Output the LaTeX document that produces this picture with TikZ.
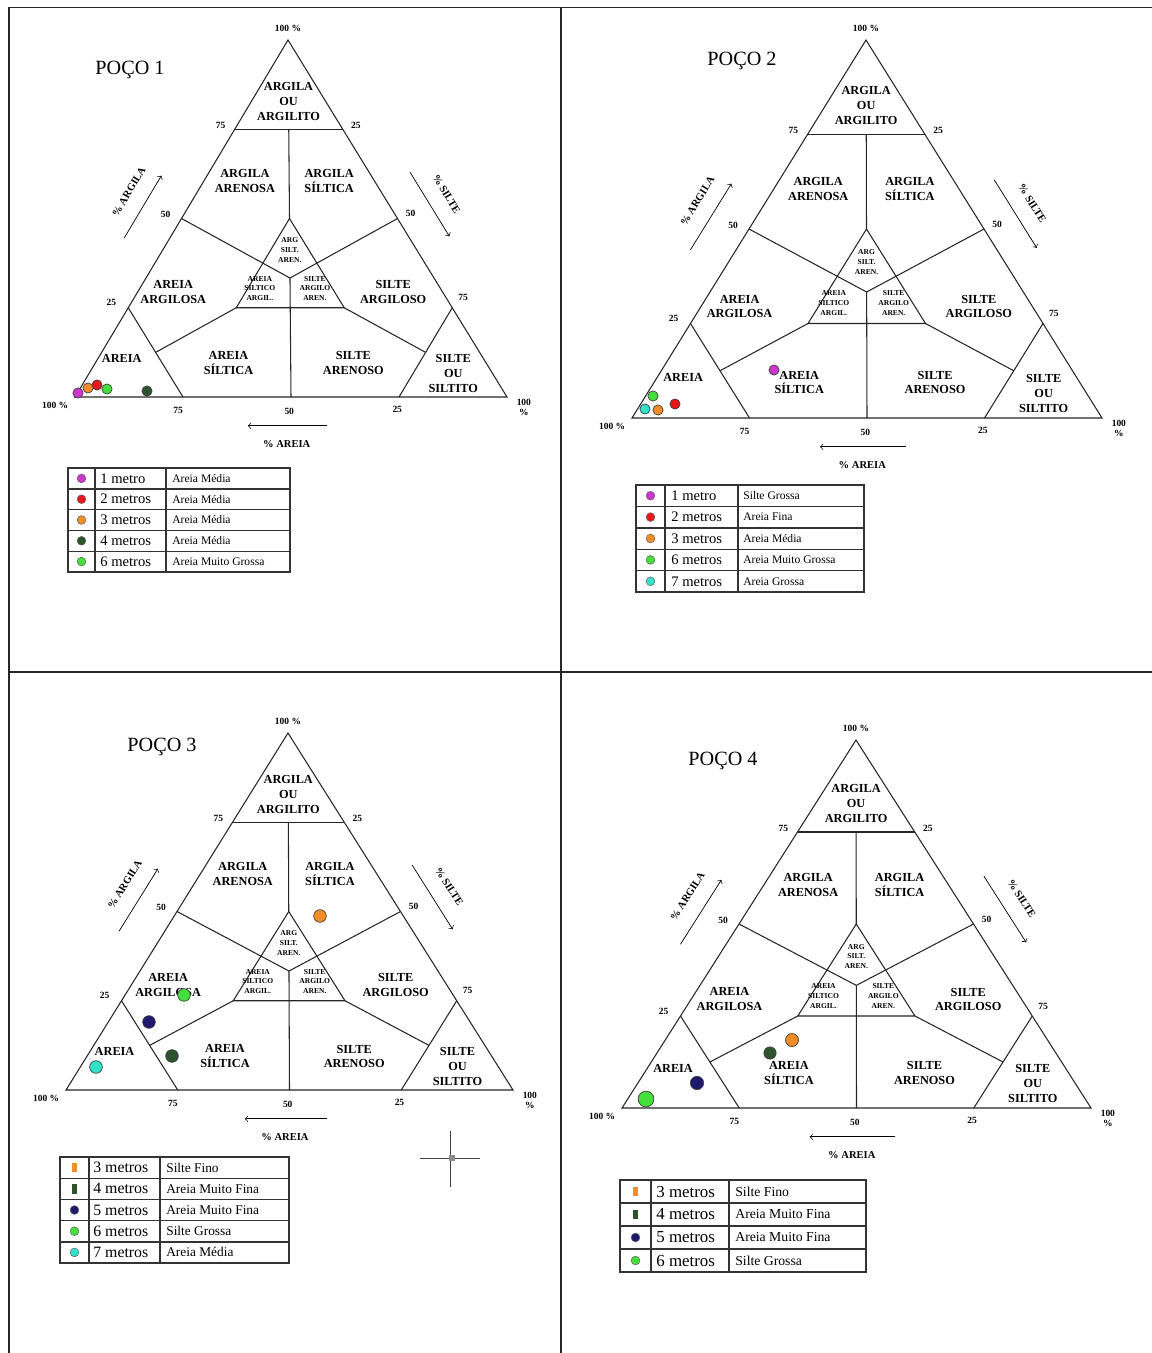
\documentclass[tikz,border=0pt]{standalone}
\usepackage{fontspec}
\setmainfont{Liberation Serif}
\usetikzlibrary{arrows}

\definecolor{dotmag}{RGB}{205,55,205}
\definecolor{dotred}{RGB}{230,25,25}
\definecolor{dotorange}{RGB}{242,140,40}
\definecolor{dotdark}{RGB}{45,85,45}
\definecolor{dotlime}{RGB}{70,222,60}
\definecolor{dotcyan}{RGB}{50,225,200}
\definecolor{dotnavy}{RGB}{30,25,110}

\tikzstyle{shepline} = [line width=0.6pt, draw=black!85]
\tikzstyle{zone} = [font=\fontsize{7}{8.5}\selectfont\bfseries, align=center, inner sep=0pt]
\tikzstyle{core} = [font=\fontsize{4.3}{5.6}\selectfont\bfseries, align=center, inner sep=0pt]
\tikzstyle{scalemark} = [font=\fontsize{5.4}{5.8}\selectfont\bfseries, align=center, inner sep=0pt]
\tikzstyle{axisname} = [font=\fontsize{6}{6.5}\selectfont\bfseries, inner sep=0pt]
\tikzstyle{arrow} = [thin,->,>=to]
\tikzstyle{title} = [font=\fontsize{11.5}{13}\selectfont, inner sep=0pt]
\tikzstyle{grain} = [circle, draw=black!75, line width=0.4pt, inner sep=0pt, minimum size=5.8pt]
\tikzstyle{keydot} = [circle, draw=black!60, line width=0.3pt, inner sep=0pt, minimum size=5pt]
\tikzstyle{keybar} = [rectangle, inner sep=0pt, minimum width=2.6pt, minimum height=5.5pt]
\tikzstyle{metro} = [font=\fontsize{8.3}{9}\selectfont, inner sep=0pt, anchor=west]
\tikzstyle{soil} = [font=\fontsize{6.6}{7}\selectfont, inner sep=0pt, anchor=west]
\tikzstyle{keyframe} = [line width=0.8pt, draw=black!80]
\tikzstyle{panel} = [line width=1.1pt, draw=black!85]

% ternary diagram: #1 name, #2 x left, #3 x right, #4 y base, #5 x apex, #6 y apex
% inside the scope a point is (% silte, % argila)
\newcommand{\shepard}[6]{%
\begin{scope}[shift={(#2,#4)}, x={({(#3-#2)*0.02cm},0cm)}, y={({(#5-#2)*0.02cm},{(#4-#6)*0.02cm})}]
\draw[shepline] (0,0) -- (1,0) -- (0,1) -- cycle;
\draw[shepline] (0,.75) -- (.25,.75);
\draw[shepline] (.125,.75) -- (.25,.5);
\draw[shepline] (.25,.25) -- (.5,.25) -- (.25,.5) -- cycle;
\draw[shepline] (0,.5) -- (.3333,.3333) -- (.5,.5);
\draw[shepline] (.3333,.3333) -- (.5,0);
\draw[shepline] (0,.25) -- (.25,0);
\draw[shepline] (.75,.25) -- (.75,0);
\draw[shepline] (.125,.125) -- (.25,.25);
\draw[shepline] (.75,.125) -- (.5,.25);

\node[zone] (#1argila) at (.0865,.827) {ARGILA\\OU\\ARGILITO};
\node[zone] (#1argaren) at (.095,.605) {ARGILA\\ARENOSA};
\node[zone] (#1argsilt) at (.29,.605) {ARGILA\\SÍLTICA};
\node[core] (#1mixtop) at (.294,.412) {ARG\\SILT.\\AREN.};
\node[core] (#1mixleft) at (.278,.304) {AREIA\\SILTICO\\ARGIL.};
\node[core] (#1mixright) at (.4055,.304) {SILTE\\ARGILO\\AREN.};
\node[zone] (#1arearg) at (.082,.295) {AREIA\\ARGILOSA};
\node[zone] (#1siltarg) at (.591,.295) {SILTE\\ARGILOSO};
\node[zone] (#1areia) at (.055,.108) {AREIA};
\node[zone] (#1areasilt) at (.309,.094) {AREIA\\SÍLTICA};
\node[zone] (#1siltaren) at (.598,.094) {SILTE\\ARENOSO};
\node[zone] (#1siltito) at (.843,.066) {SILTE\\OU\\SILTITO};

\node[scalemark, yshift=6.8pt] (#1top) at (0,1) {100 \%};
\node[scalemark, xshift=-8pt, yshift=2.3pt] (#1la) at (0,.75) {75};
\node[scalemark, xshift=-9pt, yshift=2.3pt] (#1lb) at (0,.5) {50};
\node[scalemark, xshift=-9.6pt, yshift=2.8pt] (#1lc) at (0,.25) {25};
\node[scalemark, xshift=7.4pt, yshift=2.3pt] (#1ra) at (.25,.75) {25};
\node[scalemark, xshift=7.4pt, yshift=2.8pt] (#1rb) at (.5,.5) {50};
\node[scalemark, xshift=6.2pt, yshift=5.7pt] (#1rc) at (.75,.25) {75};
\node[scalemark, xshift=-11.3pt, yshift=-4.5pt] (#1bl) at (0,0) {100 \%};
\node[scalemark, xshift=-2.8pt, yshift=-7.4pt] (#1ba) at (.25,0) {75};
\node[scalemark, xshift=-1pt, yshift=-8pt] (#1bb) at (.5,0) {50};
\node[scalemark, xshift=-1pt, yshift=-7pt] (#1bc) at (.75,0) {25};
\node[scalemark, xshift=9.6pt, yshift=-6pt] (#1br) at (1,0) {100\\\%};

\draw[arrow] ([xshift=-26pt]0,.445) -- ([xshift=-26pt]0,.62)
  node[axisname, pos=.58, sloped, above=9pt] (#1clay) {\% ARGILA};
\draw[arrow] ([xshift=23.3pt].37,.63) -- ([xshift=23.3pt].55,.45)
  node[axisname, pos=.5, sloped, above=9pt] (#1silt) {\% SILTE};
\draw[arrow] ([yshift=-16.4pt].583,0) -- ([yshift=-16.4pt].40,0);
\node[axisname, yshift=-27pt] (#1sand) at (.49,0) {\% AREIA};
\end{scope}}

% legend grid: #1..#4 column lines, #5 top, #6 row height, #7 rows
\newcommand{\keygrid}[7]{%
\draw[keyframe] (#1,#5) rectangle (#4,{#5+#6*#7});
\draw[keyframe] (#2,#5) -- (#2,{#5+#6*#7}) (#3,#5) -- (#3,{#5+#6*#7});
\foreach \r in {2,...,#7} \draw[keyframe] (#1,{#5+#6*(\r-1)}) -- (#4,{#5+#6*(\r-1)});}

\begin{document}
\begin{tikzpicture}[x=0.02cm, y=-0.02cm]
\useasboundingbox (0,0) rectangle (1152,1353);

% frame of the four panels
\draw[panel] (9,1353) -- (9,7.5) -- (1152,7.5);
\draw[panel] (561,7.5) -- (561,1353);
\draw[panel] (9,672) -- (1152,672);

% POCO 1
\shepard{p1}{75}{507}{397}{288}{40}
\node[title] (t1) at (130,70) {POÇO 1};
\node[grain, fill=dotmag] (p1s1) at (78,393) {};
\node[grain, fill=dotred] (p1s2) at (97,385) {};
\node[grain, fill=dotorange] (p1s3) at (88,388) {};
\node[grain, fill=dotlime] (p1s6) at (107,389) {};
\node[grain, fill=dotdark] (p1s4) at (147,391) {};
\keygrid{68}{95}{166}{290}{468}{20.8}{5}
\foreach \c/\m/\d [count=\i] in {dotmag/1 metro/Areia Média, dotred/2 metros/Areia Média,
  dotorange/3 metros/Areia Média, dotdark/4 metros/Areia Média, dotlime/6 metros/Areia Muito Grossa}{
  \node[keydot, fill=\c] (k1dot\i) at (81.5,{468+20.8*(\i-.5)}) {};
  \node[metro] (k1m\i) at (100,{468+20.8*(\i-.5)}) {\m};
  \node[soil] (k1d\i) at (172,{468+20.8*(\i-.5)}) {\d};
}

% POCO 2
\shepard{p2}{632}{1102}{418}{866}{40}
\node[title] (t2) at (742,61) {POÇO 2};
\node[grain, fill=dotlime] (p2s6) at (653,396) {};
\node[grain, fill=dotcyan] (p2s7) at (645,409) {};
\node[grain, fill=dotorange] (p2s3) at (658,410) {};
\node[grain, fill=dotred] (p2s2) at (675,404) {};
\node[grain, fill=dotmag] (p2s1) at (774,370) {};
\keygrid{636}{665}{738}{864}{485}{21.4}{5}
\foreach \c/\m/\d [count=\i] in {dotmag/1 metro/Silte Grossa, dotred/2 metros/Areia Fina,
  dotorange/3 metros/Areia Média, dotlime/6 metros/Areia Muito Grossa, dotcyan/7 metros/Areia Grossa}{
  \node[keydot, fill=\c] (k2dot\i) at (650.5,{485+21.4*(\i-.5)}) {};
  \node[metro] (k2m\i) at (671,{485+21.4*(\i-.5)}) {\m};
  \node[soil] (k2d\i) at (743,{485+21.4*(\i-.5)}) {\d};
}

% POCO 3
\shepard{p3}{66}{513}{1090}{288}{733}
\node[title] (t3) at (162,747) {POÇO 3};
\node[grain, fill=dotorange, minimum size=7.2pt] (p3s3) at (320,916) {};
\node[grain, fill=dotlime, minimum size=7.2pt] (p3s6) at (184,995) {};
\node[grain, fill=dotnavy, minimum size=7.2pt] (p3s5) at (149,1022) {};
\node[grain, fill=dotdark, minimum size=7.2pt] (p3s4) at (172,1056) {};
\node[grain, fill=dotcyan, minimum size=7.2pt] (p3s7) at (96,1067) {};
\keygrid{60}{89}{160}{289}{1157}{21.2}{5}
\foreach \s/\c/\m/\d [count=\i] in {keybar/dotorange/3 metros/Silte Fino, keybar/dotdark/4 metros/Areia Muito Fina,
  keydot/dotnavy/5 metros/Areia Muito Fina, keydot/dotlime/6 metros/Silte Grossa, keydot/dotcyan/7 metros/Areia Média}{
  \node[\s, fill=\c] (k3dot\i) at (74.5,{1157+21.2*(\i-.5)}) {};
  \node[metro, font=\fontsize{9}{10}\selectfont] (k3m\i) at (93,{1157+21.2*(\i-.5)}) {\m};
  \node[soil, font=\fontsize{7.6}{8}\selectfont] (k3d\i) at (166,{1157+21.2*(\i-.5)}) {\d};
}
\draw[thin, black!75] (450,1131) -- (450,1187) (420,1158) -- (480,1158);
\node[fill=black!45, inner sep=0pt, minimum size=3.2pt] (cursor) at (452,1158) {};

% POCO 4
\shepard{p4}{622}{1091}{1108}{856}{740}
\node[title] (t4) at (723,761) {POÇO 4};
\node[grain, fill=dotorange, minimum size=7.4pt] (p4s3) at (792,1040) {};
\node[grain, fill=dotdark, minimum size=7pt] (p4s4) at (770,1053) {};
\node[grain, fill=dotnavy, minimum size=7.6pt] (p4s5) at (697,1083) {};
\node[grain, fill=dotlime, minimum size=9pt] (p4s6) at (646,1099) {};
\keygrid{620}{651}{729}{866}{1180}{23}{4}
\foreach \s/\c/\m/\d [count=\i] in {keybar/dotorange/3 metros/Silte Fino, keybar/dotdark/4 metros/Areia Muito Fina,
  keydot/dotnavy/5 metros/Areia Muito Fina, keydot/dotlime/6 metros/Silte Grossa}{
  \node[\s, fill=\c] (k4dot\i) at (635.5,{1180+23*(\i-.5)}) {};
  \node[metro, font=\fontsize{9.6}{10}\selectfont] (k4m\i) at (656,{1180+23*(\i-.5)}) {\m};
  \node[soil, font=\fontsize{7.8}{8}\selectfont] (k4d\i) at (735,{1180+23*(\i-.5)}) {\d};
}

\end{tikzpicture}
\end{document}
